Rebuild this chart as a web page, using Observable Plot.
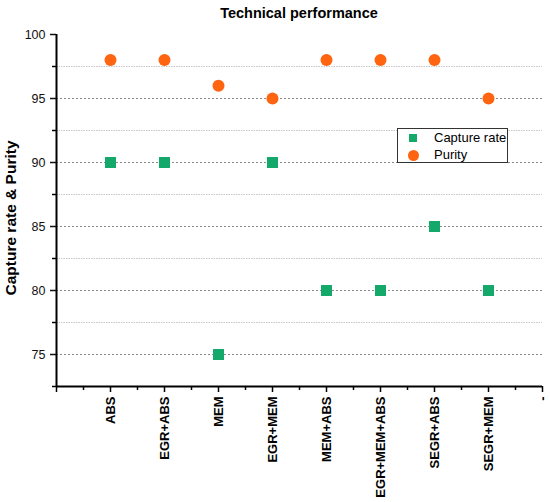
<!DOCTYPE html>
<html><head><meta charset="utf-8">
<script src="https://cdn.jsdelivr.net/npm/d3@7"></script>
<script src="https://cdn.jsdelivr.net/npm/@observablehq/plot@0.6"></script>
<style>
body{margin:0;background:#fff;font-family:Arial,"Liberation Sans",sans-serif}
#wrap{position:relative;width:550px;height:502px;overflow:hidden}
#title{position:absolute;left:56px;width:486px;top:5px;text-align:center;font-weight:bold;font-size:14.5px;color:#000}
#ylab{position:absolute;left:11px;top:218px;transform:translate(-50%,-50%) rotate(-90deg);white-space:nowrap;font-weight:bold;font-size:15.5px;color:#000}
#legend{position:absolute;left:397px;top:128px;width:109px;height:33px;border:1px solid #333;background:#fff;font-size:13px;color:#000}
.li{position:absolute;left:0;height:16px;line-height:16px;white-space:nowrap}
.sw{position:absolute;left:11px}
.lt{position:absolute;left:36px;top:0}
</style></head><body><div id="wrap"><div id="title"></div><div id="ylab"></div><div id="legend"></div></div>
<script>
const titleText = "Technical performance";
const yLabel = "Capture rate & Purity";
const categories = ["ABS","EGR+ABS","MEM","EGR+MEM","MEM+ABS","EGR+MEM+ABS","SEGR+ABS","SEGR+MEM"];
const captureRate = [90,90,75,90,80,80,85,80];
const purity = [98,98,96,95,98,98,98,95];
const seriesNames = ["Capture rate","Purity"];
const seriesColors = ["#14a86b","#ff6410"];
const xTickLabels = ["", ...categories, "-"];
const yMajorTicks = [75,80,85,90,95,100];
const yMinorTicks = [72.5,77.5,82.5,87.5,92.5,97.5];
const gridMajor = [75,80,85,90,95];
const gridMinor = [77.5,82.5,87.5,92.5,97.5];

const rows = categories.map((c,i)=>({pos:i+1, name:c, capture:captureRate[i], purity:purity[i]}));
const xMajor = d3.range(0, categories.length + 2);
const xMinor = d3.range(0.5, categories.length + 1, 1);

const chart = Plot.plot({
  width:550, height:502,
  marginTop:34, marginBottom:116, marginLeft:56, marginRight:8,
  style:{fontFamily:"Arial, 'Liberation Sans', sans-serif", background:"transparent", color:"#000"},
  x:{domain:[0, categories.length + 1]},
  y:{domain:[72.5,100]},
  marks:[
    Plot.ruleY(gridMinor, {stroke:"#c8c8c8", strokeDasharray:"1.5,1", strokeWidth:1}),
    Plot.ruleY(gridMajor, {stroke:"#8a8a8a", strokeDasharray:"2,2", strokeWidth:1}),
    Plot.axisY(yMajorTicks, {tickSize:6, tickPadding:5, fontSize:12.5, label:null, strokeWidth:1.5, color:"#111"}),
    Plot.axisY(yMinorTicks, {tickSize:4, tickFormat:()=>"", label:null, strokeWidth:1.5}),
    Plot.axisX(xMajor, {tickSize:6, tickPadding:4, tickRotate:-90, tickFormat:i=>xTickLabels[i], fontWeight:"bold", fontSize:13, label:null, strokeWidth:1.5}),
    Plot.axisX(xMinor, {tickSize:4, tickFormat:()=>"", label:null, strokeWidth:1.5}),
    Plot.ruleX([0], {y1:72.5, y2:100, stroke:"#000", strokeWidth:2}),
    Plot.ruleY([72.5], {stroke:"#000", strokeWidth:2}),
    Plot.dot(rows, {x:"pos", y:"capture", symbol:"square", r:6.2, fill:seriesColors[0]}),
    Plot.dot(rows, {x:"pos", y:"purity", symbol:"circle", r:6, fill:seriesColors[1]})
  ]
});
const wrap = document.getElementById("wrap");
wrap.insertBefore(chart, wrap.firstChild);
document.getElementById("title").textContent = titleText;
document.getElementById("ylab").textContent = yLabel;
const leg = document.getElementById("legend");
seriesNames.forEach((n,i)=>{
  const li = document.createElement("div");
  li.className="li"; li.style.top = (1 + i*17) + "px";
  const sw = document.createElement("div");
  sw.className="sw";
  if(i===0){ sw.style.cssText += `width:8px;height:8px;top:4px;background:${seriesColors[0]};`; }
  else { sw.style.cssText += `width:11px;height:11px;top:2.5px;left:9.5px;border-radius:50%;background:${seriesColors[1]};`; }
  const t = document.createElement("div"); t.className="lt"; t.textContent = n;
  li.appendChild(sw); li.appendChild(t); leg.appendChild(li);
});
</script>
</body></html>
